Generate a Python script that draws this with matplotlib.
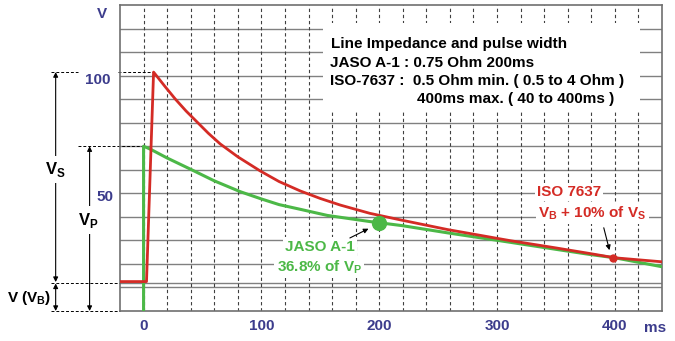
import matplotlib
matplotlib.use('Agg')
import matplotlib.pyplot as plt
from matplotlib.patches import Rectangle

plt.rcParams['font.family'] = ['Liberation Sans', 'DejaVu Sans']
plt.rcParams['font.weight'] = 'bold'
plt.rcParams['mathtext.fontset'] = 'custom'
plt.rcParams['mathtext.rm'] = 'Liberation Sans:bold'
plt.rcParams['mathtext.bf'] = 'Liberation Sans:bold'

# ISO 7637 pulse (red)
iso_t = [-20, 2.5, 8.5, 18, 27, 36, 46, 55, 65, 80, 99, 115, 133, 150, 167, 192, 219, 258, 311, 350, 379, 400, 440]
iso_v = [12.5, 12.5, 101.5, 95.5, 90, 85, 80, 75.5, 71, 65.5, 59.5, 55, 51, 47.8, 45, 41.5, 38.6, 34.6, 29.9, 26.8, 24.4, 22.6, 20.9]

# JASO A-1 pulse (green)
jaso_t = [0, 0, 6, 20, 40, 60, 82, 100, 115, 133, 156, 192, 219, 258, 311, 350, 379, 400, 440]
jaso_v = [0, 70, 68.7, 65, 60.2, 55.3, 50.7, 47.6, 45.2, 43.2, 40.6, 38, 36.3, 33.2, 29.2, 26.2, 24, 22.6, 18.8]

vb = 12
vs_peak = 101.5
vp_peak = 70
jaso_pt = (200, 37.5)
iso_pt = (398, 22.6)

xticks = [0, 100, 200, 300, 400]
yticks = [50, 100]

red = '#d42b25'
green = '#4cb847'
navy = '#3c3c8c'

fig = plt.figure(figsize=(6.75, 3.41), dpi=100)
ax = fig.add_axes([120/675, 1-311/341, 542/675, 306/341])
ax.set_xlim(-20, 440)
ax.set_ylim(0, 130)
ax.set_xticks([])
ax.set_yticks([])
for s in ax.spines.values():
    s.set_color('#707070')
    s.set_linewidth(1.2)

# grid
for v in list(range(10, 130, 10)) + [vb]:
    ax.axhline(v, color='#808080', lw=1, zorder=1)
for t in range(0, 440, 20):
    ax.axvline(t, color='#404040', lw=0.8, ls=(0, (3, 2.5)), zorder=1)

# white area behind text block
ax.add_patch(Rectangle((152, 84.5), 269, 38, fc='white', ec='none', zorder=2))

ax.plot(iso_t, iso_v, color=red, lw=2, zorder=4, solid_joinstyle='round')
ax.plot(jaso_t, jaso_v, color=green, lw=2.2, zorder=3, solid_joinstyle='round')
ax.plot(*jaso_pt, 'o', ms=10, color=green, zorder=5)
ax.plot(*iso_pt, 'o', ms=5, color=red, zorder=5)

# text block
tx = dict(fontsize=11, fontweight='bold', color='black', va='center', ha='left', zorder=6)
ax.text(159, 113.4, 'Line Impedance and pulse width', **tx)
ax.text(158, 105.5, 'JASO A-1 : 0.75 Ohm 200ms', **tx)
ax.text(158, 97.7, 'ISO-7637 :  0.5 Ohm min. ( 0.5 to 4 Ohm )', **tx)
ax.text(232, 90, '400ms max. ( 40 to 400ms )', **tx)

# JASO label
wb = dict(fc='white', ec='none', pad=1.5)
ax.text(150, 27.4, 'JASO A-1', color=green, fontsize=11, ha='center', va='center', bbox=wb, zorder=6)
ax.text(149, 18.7, r'36.8% of V$_\mathbf{P}$', color=green, fontsize=11, ha='center', va='center', bbox=wb, zorder=6)
ax.annotate('', xy=(193, 35.5), xytext=(173, 30.5),
            arrowprops=dict(arrowstyle='-|>', color='black', lw=0.8, mutation_scale=7), zorder=6)

# ISO label
ax.text(334, 50.5, 'ISO 7637', color=red, fontsize=11, ha='left', va='center', bbox=wb, zorder=6)
ax.text(335, 41.6, r'V$_\mathbf{B}$ + 10% of V$_\mathbf{S}$', color=red, fontsize=11, ha='left', va='center', bbox=wb, zorder=6)
ax.annotate('', xy=(396, 24.7), xytext=(390, 36.5),
            arrowprops=dict(arrowstyle='-|>', color='black', lw=0.8, mutation_scale=7), zorder=6)

# axis labels
for t in xticks:
    ax.text(t, -6.3, str(t), color=navy, fontsize=11, ha='center', va='center', clip_on=False)
ax.text(434, -7.3, 'ms', color=navy, fontsize=11, ha='center', va='center', clip_on=False)
ax.text(-39, 98, str(yticks[1]), color=navy, fontsize=11, ha='center', va='center', clip_on=False)
ax.text(-32.6, 48.4, str(yticks[0]), color=navy, fontsize=11, ha='center', va='center', clip_on=False)
ax.text(-35.6, 126, 'V', color=navy, fontsize=11, ha='center', va='center', clip_on=False)

# left side dimension lines
dk = dict(color='black', lw=0.7, ls=(0, (3, 2)), clip_on=False)
ax.plot([-78.8, -56], [vs_peak, vs_peak], **dk)
ax.plot([-22, 8.5], [vs_peak, vs_peak], **dk)
ax.plot([-56, 0], [vp_peak, vp_peak], **dk)
ax.plot([-78.8, -20], [vb, vb], **dk)
ax.plot([-78.8, -20], [0, 0], **dk)

ap = dict(arrowstyle='<|-|>', color='black', lw=0.8, mutation_scale=7, shrinkA=0, shrinkB=0)
ax.annotate('', xy=(-74.6, vs_peak), xytext=(-74.6, vb + 0.3), arrowprops=ap, annotation_clip=False)
ax.annotate('', xy=(-45.8, vp_peak), xytext=(-45.8, 0), arrowprops=ap, annotation_clip=False)
ax.annotate('', xy=(-74.6, vb - 0.3), xytext=(-74.6, 0), arrowprops=ap, annotation_clip=False)

lb = dict(fontsize=12, color='black', ha='center', va='center', clip_on=False)
ax.text(-74.6, 60, r'V$_\mathbf{S}$', bbox=dict(fc='white', ec='none', pad=3), **lb)
ax.text(-46.5, 38.6, r'V$_\mathbf{P}$', bbox=dict(fc='white', ec='none', pad=3), **lb)
ax.text(-97, 5.5, r'V (V$_\mathbf{B}$)', fontsize=11, color='black', ha='center', va='center', clip_on=False)

fig.savefig('out.png', dpi=100)
plt.close()
